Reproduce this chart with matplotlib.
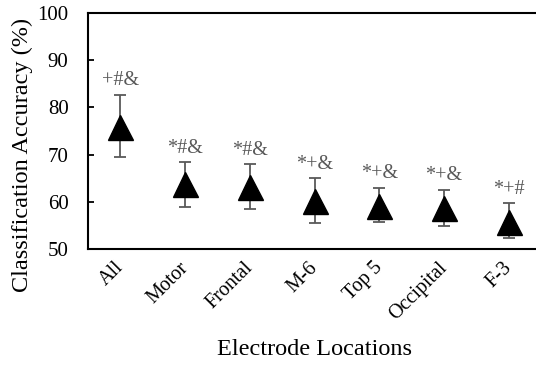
import numpy as np
import matplotlib.pyplot as plt
import matplotlib.transforms as mtransforms

# data
locations = ['All', 'Motor', 'Frontal', 'M-6', 'Top 5', 'Occipital', 'F-3']
accuracy = [75.8, 63.75, 63.15, 60.2, 59.2, 58.65, 55.7]
err_upper = [82.7, 68.5, 68.0, 65.0, 63.0, 62.6, 59.7]
err_lower = [69.45, 58.85, 58.5, 55.6, 55.8, 54.9, 52.4]
sig_marks = ['+#&', '*#&', '*#&', '*+&', '*+&', '*+&', '*+#']

plt.rcParams['font.family'] = ['Liberation Serif', 'DejaVu Serif']

fig = plt.figure(figsize=(5.36, 3.66), dpi=100)
ax = fig.add_axes([88 / 536, 117 / 366, 453 / 536, 236 / 366])

x = np.arange(len(locations))
acc = np.array(accuracy)
yerr = [acc - np.array(err_lower), np.array(err_upper) - acc]

ax.errorbar(x, acc, yerr=yerr, fmt='none', ecolor='#595959',
            elinewidth=1.3, capsize=4, capthick=1.3, zorder=2)
ax.plot(x, acc, linestyle='none', marker='^', markersize=18,
        color='black', zorder=3)

for xi, top, mark in zip(x, err_upper, sig_marks):
    ax.annotate(mark, (xi, top), xytext=(0, 3), textcoords='offset points',
                ha='center', va='bottom', fontsize=14.5, color='#595959')

ax.set_xlim(-0.5, 6.5)
ax.set_ylim(50, 100)
ax.set_yticks([50, 60, 70, 80, 90, 100])
ax.set_xticks(x)
ax.set_xticklabels(locations, rotation=45, ha='right', va='top',
                   rotation_mode='anchor', fontsize=14.5)
ax.tick_params(axis='x', length=0, pad=6)
ax.tick_params(axis='y', direction='in', length=4, width=1.3,
               labelsize=15, pad=14)

# nudge the rotated labels a little to the left
shift = mtransforms.ScaledTranslation(-6 / 100, -1 / 100, fig.dpi_scale_trans)
for lab in ax.get_xticklabels():
    lab.set_transform(lab.get_transform() + shift)

for sp in ax.spines.values():
    sp.set_linewidth(1.5)

ax.set_xlabel('Electrode Locations', fontsize=17.5, labelpad=11)
ax.set_ylabel('Classification Accuracy (%)', fontsize=17.5)
ax.yaxis.set_label_coords(-0.121, 0.398)

fig.savefig('out.png', dpi=100)
